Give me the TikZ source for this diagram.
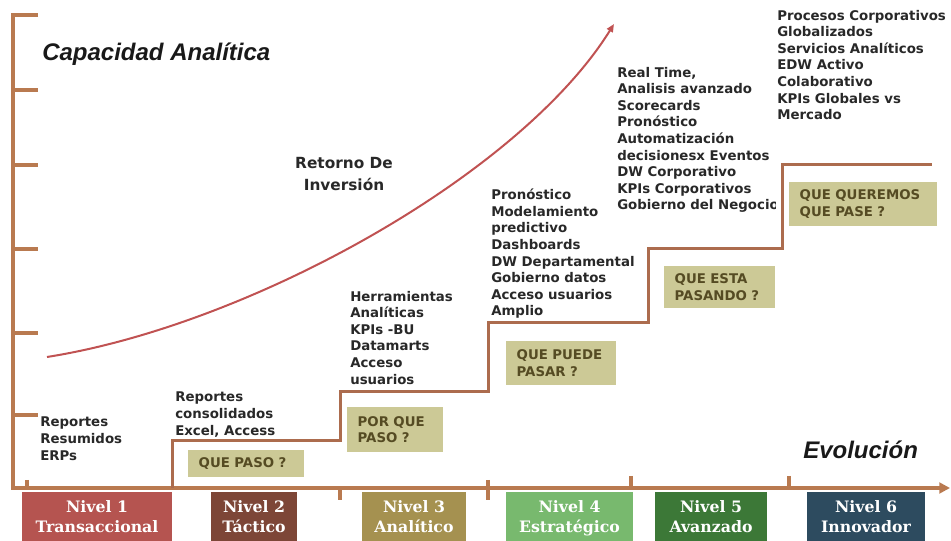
\documentclass[tikz,border=0pt]{standalone}
\usepackage{fontspec}
\setmainfont{DejaVu Sans}
\newfontfamily\titfont{Liberation Sans}
\newfontfamily\nivfont{DejaVu Serif}
\usetikzlibrary{arrows.meta,positioning}
\definecolor{ejecol}{RGB}{185,122,80}
\definecolor{esccol}{RGB}{172,108,78}
\definecolor{curvacol}{RGB}{192,82,82}
\definecolor{cajacol}{RGB}{204,201,150}
\definecolor{cajatxt}{RGB}{85,75,35}
\definecolor{txtcol}{RGB}{40,40,40}
\definecolor{niv1}{RGB}{181,84,80}
\definecolor{niv2}{RGB}{125,70,55}
\definecolor{niv3}{RGB}{165,145,80}
\definecolor{niv4}{RGB}{120,185,110}
\definecolor{niv5}{RGB}{60,120,55}
\definecolor{niv6}{RGB}{45,75,95}

\begin{document}
\begin{tikzpicture}[x=0.75pt,y=-0.75pt,
    ejeln/.style={draw=ejecol,line width=3pt},
    escln/.style={draw=esccol,line width=2.25pt},
    curvaln/.style={draw=curvacol,line width=1.5pt},
    item/.style={anchor=north west,inner sep=0,align=left,text=txtcol,
        font=\bfseries\fontsize{10}{12.4}\selectfont},
    pregunta/.style={fill=cajacol,text=cajatxt,align=left,inner xsep=8pt,inner ysep=0,
        font=\bfseries\fontsize{10}{12.4}\selectfont},
    nivel/.style={text=white,align=center,inner sep=0,minimum height=36.75pt,
        font=\nivfont\bfseries\fontsize{11.8}{15}\selectfont},
    titulo/.style={anchor=west,inner sep=0,text=black!90,
        font=\titfont\bfseries\itshape\fontsize{18}{20}\selectfont}]
        \useasboundingbox (0,0) rectangle (951,541);

        \coordinate (T) at (38,15);
        \coordinate (Y) at (13,15);
        \coordinate (O) at (13,488);
        \coordinate (X) at (950,488);

        \coordinate (E0) at (172,488);
        \coordinate (E1) at (340,441);
        \coordinate (E2) at (488,392);
        \coordinate (E3) at (648,323);
        \coordinate (E4) at (782,249);
        \coordinate (E5) at (932,165);

        \coordinate (R0) at (47,357);
        \coordinate (R1) at (614,24);

        %
        \draw[ejeln,-{Triangle[length=8pt,width=8pt]}] (T) -- (Y) -- (O) -- (X);
        \foreach \y in {90,165,249,333,415}
            \draw[ejeln] (13,\y) -- (38,\y);
        \draw[ejeln] (27,480) -- (27,488);
        \draw[ejeln] (340,488) -- (340,500);
        \draw[ejeln] (488,480) -- (488,500);
        \draw[ejeln] (631,476) -- (631,488);
        \draw[ejeln] (789,476) -- (789,488);

        \draw[escln] (E0) |- (E1) |- (E2) |- (E3) |- (E4) |- (E5);

        \draw[curvaln,-{Triangle[length=6pt,width=5pt]}] (R0) .. controls (250,325) and (520,175) .. (R1);

        %
        \node[titulo] (cap) at (42,54) {Capacidad Analítica};
        \node[titulo] (evo) at (803,450) {Evolución};
        \node[align=center,inner sep=0,text=txtcol,font=\bfseries\fontsize{11.5}{16}\selectfont] (ret) at (344,174) {Retorno De\\Inversión};

        \node[item] (t1) at (40,417) {Reportes\\Resumidos\\ERPs};
        \node[item] (t2) at (175,392) {Reportes\\consolidados\\Excel, Access};
        \node[item] (t3) at (350,291) {Herramientas\\Analíticas\\KPIs -BU\\Datamarts\\Acceso\\usuarios};
        \node[item] (t4) at (491,189) {Pronóstico\\Modelamiento\\predictivo\\Dashboards\\DW Departamental\\Gobierno datos\\Acceso usuarios\\Amplio};
        \begin{scope}
            \clip (0,0) rectangle (775,541);
            \node[item] (t5) at (617,67) {Real Time,\\Analisis avanzado\\Scorecards\\Pronóstico\\Automatización\\decisionesx Eventos\\DW Corporativo\\KPIs Corporativos\\Gobierno del Negocio};
        \end{scope}
        \node[item] (t6) at (777,10) {Procesos Corporativos\\Globalizados\\Servicios Analíticos\\EDW Activo\\Colaborativo\\KPIs Globales vs\\Mercado};

        %
        \node[pregunta,minimum width=87pt,minimum height=20.25pt,text width=71pt] (q1) at (246,463.5) {QUE PASO ?};
        \node[pregunta,minimum width=72pt,minimum height=33.75pt,text width=56pt] (q2) at (395,429.5) {POR QUE\\PASO ?};
        \node[pregunta,minimum width=82.5pt,minimum height=33pt,text width=66.5pt] (q3) at (561,363) {QUE PUEDE\\PASAR ?};
        \node[pregunta,minimum width=83.25pt,minimum height=31.5pt,text width=67.25pt] (q4) at (719.5,287) {QUE ESTA\\PASANDO ?};
        \node[pregunta,minimum width=111pt,minimum height=33pt,text width=95pt] (q5) at (863,204) {QUE QUEREMOS\\QUE PASE ?};

        %
        \node[nivel,fill=niv1,minimum width=112.5pt] (n1) at (97,516.5) {Nivel 1\\Transaccional};
        \node[nivel,fill=niv2,minimum width=64.5pt] (n2) at (254,516.5) {Nivel 2\\Táctico};
        \node[nivel,fill=niv3,minimum width=78pt] (n3) at (414,516.5) {Nivel 3\\Analítico};
        \node[nivel,fill=niv4,minimum width=95.25pt] (n4) at (569.5,516.5) {Nivel 4\\\smash{Estratégico}};
        \node[nivel,fill=niv5,minimum width=84pt] (n5) at (711,516.5) {Nivel 5\\Avanzado};
        \node[nivel,fill=niv6,minimum width=88.5pt] (n6) at (866,516.5) {Nivel 6\\Innovador};
    \end{tikzpicture}
\end{document}
